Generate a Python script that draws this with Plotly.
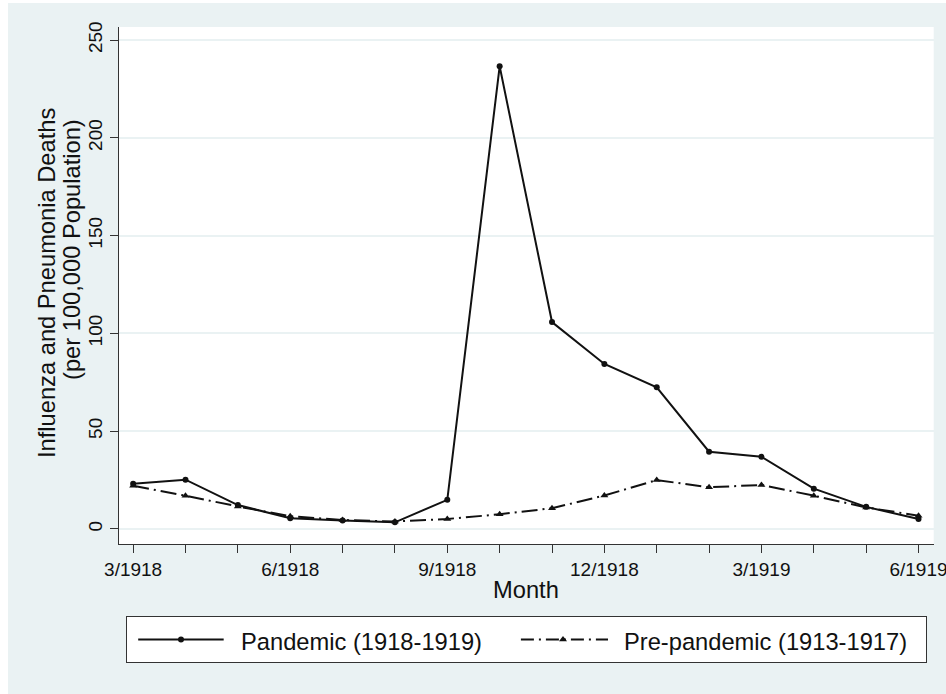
import plotly.graph_objects as go

# Monthly influenza and pneumonia death rates per 100,000 population
months = ["3/1918", "4/1918", "5/1918", "6/1918", "7/1918", "8/1918", "9/1918",
          "10/1918", "11/1918", "12/1918", "1/1919", "2/1919", "3/1919",
          "4/1919", "5/1919", "6/1919"]
tick_labels = ["3/1918", "", "", "6/1918", "", "", "9/1918", "", "", "12/1918",
               "", "", "3/1919", "", "", "6/1919"]
pandemic = [23.1, 25.2, 12.2, 5.5, 4.3, 3.4, 14.9, 236.6, 105.8, 84.4, 72.4,
            39.5, 36.9, 20.6, 11.3, 5.1]
pre_pandemic = [22.1, 17.0, 11.5, 6.5, 4.6, 3.8, 5.1, 7.5, 10.6, 17.1, 25.0,
                21.3, 22.5, 17.0, 11.0, 6.8]
y_ticks = [0, 50, 100, 150, 200, 250]
series_names = ["Pandemic (1918-1919)", "Pre-pandemic (1913-1917)"]

W, H = 946, 694
BG = "#EAF2F3"
INK = "#111111"
AXIS = "#333333"
FONT = "Liberation Sans, Arial, Helvetica, sans-serif"
TITLE_SIZE = 23.7
TICK_SIZE = 19
DASHDOT = "16px,5px,2px,5px"


def px_x(p):
    return p / W


def px_y(p):
    return 1 - p / H


fig = go.Figure()

# main series
fig.add_trace(go.Scatter(
    x=months, y=pandemic, mode="lines+markers", name=series_names[0],
    line=dict(color=INK, width=2),
    marker=dict(symbol="circle", size=6, color=INK),
    xaxis="x", yaxis="y", showlegend=False))
fig.add_trace(go.Scatter(
    x=months, y=pre_pandemic, mode="lines+markers", name=series_names[1],
    line=dict(color=INK, width=2, dash=DASHDOT),
    marker=dict(symbol="triangle-up", size=7, color=INK),
    xaxis="x", yaxis="y", showlegend=False))

# legend key drawn in its own small box
key_styles = [
    dict(x0=0.014, x1=0.121, xm=0.0676, dash="solid", sym="circle", size=6, tx=0.140),
    dict(x0=0.493, x1=0.602, xm=0.5457, dash="13px,5px,2px,5px", sym="triangle-up",
         size=7, tx=0.619),
]
for name, st in zip(series_names, key_styles):
    fig.add_trace(go.Scatter(
        x=[st["x0"], st["x1"]], y=[0.5, 0.5], mode="lines",
        line=dict(color=INK, width=2, dash=st["dash"]),
        xaxis="x2", yaxis="y2", showlegend=False, hoverinfo="skip"))
    fig.add_trace(go.Scatter(
        x=[st["xm"]], y=[0.5], mode="markers",
        marker=dict(symbol=st["sym"], size=st["size"], color=INK),
        xaxis="x2", yaxis="y2", showlegend=False, hoverinfo="skip"))
    fig.add_annotation(
        x=st["tx"], y=0.44, xref="x2", yref="y2", text=name, showarrow=False,
        xanchor="left", yanchor="middle",
        font=dict(family=FONT, size=TITLE_SIZE, color=INK))

fig.update_layout(
    width=W, height=H,
    margin=dict(l=0, r=0, t=0, b=0, pad=0, autoexpand=False),
    paper_bgcolor=BG, plot_bgcolor="white",
    font=dict(family=FONT, color=INK),
    xaxis=dict(
        domain=[px_x(119), px_x(933.7)], automargin=False,
        type="category", categoryorder="array", categoryarray=months,
        range=[-0.27, 15.29],
        tickmode="array", tickvals=months, ticktext=tick_labels,
        ticks="outside", ticklen=8, tickwidth=1.3, tickcolor=AXIS,
        showline=True, linecolor=AXIS, linewidth=1.3,
        showgrid=False, zeroline=False,
        tickfont=dict(size=TICK_SIZE, color=INK), anchor="y"),
    yaxis=dict(
        domain=[px_y(544), px_y(27)], automargin=False,
        range=[-7.7, 256.7],
        tickmode="array", tickvals=y_ticks,
        ticks="outside", ticklen=8, tickwidth=1.3, tickcolor=AXIS,
        tickangle=-90,
        showline=True, linecolor=AXIS, linewidth=1.3,
        showgrid=True, gridcolor=BG, gridwidth=2, zeroline=False,
        tickfont=dict(size=TICK_SIZE, color=INK), anchor="x"),
    xaxis2=dict(
        domain=[px_x(127), px_x(926)], range=[0, 1], anchor="y2", automargin=False,
        showline=True, mirror=True, linecolor=AXIS, linewidth=1.3,
        showgrid=False, zeroline=False, showticklabels=False, ticks=""),
    yaxis2=dict(
        domain=[px_y(662), px_y(617)], range=[0, 1], anchor="x2", automargin=False,
        showline=True, mirror=True, linecolor=AXIS, linewidth=1.3,
        showgrid=False, zeroline=False, showticklabels=False, ticks=""),
    shapes=[
        dict(type="rect", xref="paper", yref="paper", x0=0, x1=px_x(8),
             y0=0, y1=1, fillcolor="white", line=dict(width=0), layer="below"),
        dict(type="rect", xref="paper", yref="paper", x0=0, x1=1,
             y0=px_y(3), y1=1, fillcolor="white", line=dict(width=0), layer="below"),
    ],
)

# axis titles
fig.add_annotation(
    x=px_x(47), y=px_y(283), xref="paper", yref="paper",
    text="Influenza and Pneumonia Deaths", textangle=-90, showarrow=False,
    xanchor="center", yanchor="middle",
    font=dict(family=FONT, size=TITLE_SIZE, color=INK))
fig.add_annotation(
    x=px_x(72), y=px_y(250), xref="paper", yref="paper",
    text="(per 100,000 Population)", textangle=-90, showarrow=False,
    xanchor="center", yanchor="middle",
    font=dict(family=FONT, size=TITLE_SIZE, color=INK))
fig.add_annotation(
    x=px_x(526), y=px_y(590), xref="paper", yref="paper",
    text="Month", showarrow=False,
    xanchor="center", yanchor="middle",
    font=dict(family=FONT, size=TITLE_SIZE, color=INK))

# remove the default page margin so the figure fills the window exactly
fig.write_html(
    "out.html",
    post_script="document.body.style.margin='0';document.body.style.overflow='hidden';")
